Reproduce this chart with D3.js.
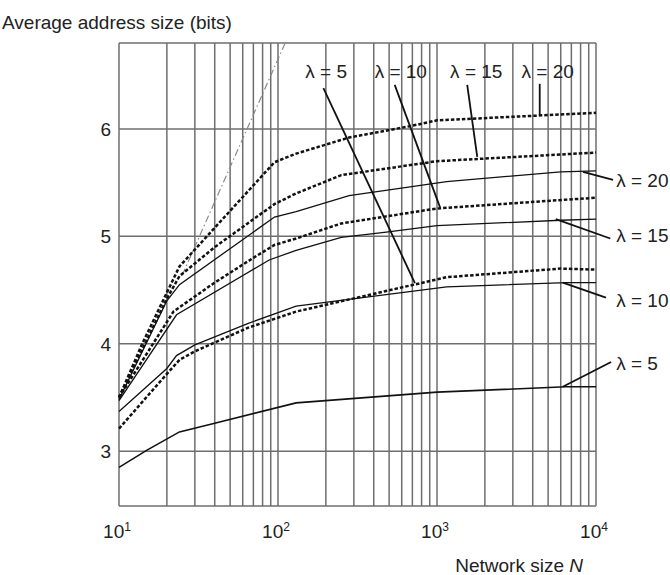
<!DOCTYPE html>
<html><head><meta charset="utf-8">
<script src="https://cdn.jsdelivr.net/npm/d3@7"></script>
<style>
html,body{margin:0;padding:0;background:#fff;}
svg{display:block;font-family:"Liberation Sans",Arial,Helvetica,sans-serif;}
</style></head>
<body><svg id="c" width="670" height="575"></svg>
<script>
// ---- data ----
const xTickExponents = [1, 2, 3, 4];
const yTicks = [3, 4, 5, 6];

// solid curves (one method), N / value pairs
const solid5N  = [10, 15, 24, 40, 130, 1000, 6500, 10000];
const solid5V  = [2.85, 3.01, 3.18, 3.26, 3.45, 3.55, 3.60, 3.60];
const solid10N = [10, 20, 23, 30, 65, 130, 1150, 6500, 10000];
const solid10V = [3.37, 3.77, 3.89, 3.99, 4.19, 4.35, 4.53, 4.57, 4.57];
const solid15N = [10, 23, 88, 130, 250, 480, 1000, 6000, 10000];
const solid15V = [3.47, 4.27, 4.78, 4.87, 4.99, 5.04, 5.10, 5.15, 5.16];
const solid20N = [10, 20, 24, 95, 130, 280, 1150, 6000, 10000];
const solid20V = [3.48, 4.40, 4.55, 5.18, 5.23, 5.38, 5.51, 5.60, 5.61];

// dotted curves (other method)
const dotted5N  = [10, 20, 24, 30, 65, 130, 1150, 6000, 10000];
const dotted5V  = [3.21, 3.72, 3.85, 3.93, 4.15, 4.30, 4.62, 4.70, 4.69];
const dotted10N = [10, 22, 40, 70, 95, 130, 250, 1000, 10000];
const dotted10V = [3.50, 4.30, 4.57, 4.80, 4.92, 4.98, 5.12, 5.26, 5.36];
const dotted15N = [10, 20, 24, 40, 95, 130, 250, 1000, 10000];
const dotted15V = [3.50, 4.42, 4.63, 4.90, 5.30, 5.40, 5.57, 5.70, 5.78];
const dotted20N = [10, 14, 24, 95, 130, 280, 700, 1000, 10000];
const dotted20V = [3.50, 4.00, 4.72, 5.69, 5.77, 5.92, 6.03, 6.08, 6.15];

// grey dash-dot reference line
const refN = [25, 111];
const refV = [4.64, 6.80];

// annotation labels
const topLabels  = ["λ = 5", "λ = 10", "λ = 15", "λ = 20"];
const topLabelN  = [201, 592, 1766, 4966];
const topLabelV  = [6.47, 6.47, 6.47, 6.47];
const topLeadN1  = [193, 542, 1549, 4426];
const topLeadV1  = [6.38, 6.41, 6.41, 6.42];
const topLeadN2  = [726, 1045, 1791, 4426];
const topLeadV2  = [4.565, 5.27, 5.74, 6.13];

const rightLabels = ["λ = 20", "λ = 15", "λ = 10", "λ = 5"];
const rightLabelN = [13400, 13400, 13400, 13400];
const rightLabelV = [5.525, 5.01, 4.41, 3.82];
const rightLeadN1 = [8282, 5585, 6180, 6180];
const rightLeadV1 = [5.60, 5.16, 4.57, 3.60];
const rightLeadN2 = [12800, 12300, 11550, 12450];
const rightLeadV2 = [5.525, 4.98, 4.43, 3.83];

// ---- drawing ----
const svg = d3.select("#c");
const x = d3.scaleLog().domain([10, 10000]).range([119, 596]);
const y = d3.scaleLinear().domain([2.49, 6.8]).range([506, 43]);
const gridColor = "#6e6e6e";

// grid
const g = svg.append("g");
g.selectAll("line.v").data(x.ticks()).join("line")
  .attr("x1", d => x(d)).attr("x2", d => x(d))
  .attr("y1", y(2.49)).attr("y2", y(6.8))
  .attr("stroke", gridColor).attr("stroke-width", 1.5);
g.selectAll("line.h").data(yTicks.concat([2.49, 6.8])).join("line")
  .attr("x1", x(10)).attr("x2", x(10000))
  .attr("y1", d => y(d)).attr("y2", d => y(d))
  .attr("stroke", gridColor).attr("stroke-width", 1.5);

// y tick labels
svg.selectAll("text.yt").data(yTicks).join("text")
  .attr("x", 111).attr("y", d => y(d)).attr("dy", "0.36em")
  .attr("text-anchor", "end").attr("font-size", 19).attr("fill", "#222")
  .text(d => d);

// x tick labels (10^k)
const xl = svg.selectAll("text.xt").data(xTickExponents).join("text")
  .attr("x", d => x(Math.pow(10, d)) - 2).attr("y", 538)
  .attr("text-anchor", "middle").attr("font-size", 19).attr("fill", "#222");
xl.append("tspan").text("10");
xl.append("tspan").attr("dy", -7).attr("font-size", 12).text(d => d);

// axis titles
svg.append("text").attr("x", 2).attr("y", 29).attr("font-size", 19)
  .attr("fill", "#222")
  .text("Average address size (bits)");
const xt = svg.append("text").attr("x", 583).attr("y", 572).attr("text-anchor", "end")
  .attr("font-size", 19).attr("fill", "#222");
xt.append("tspan").text("Network size ");
xt.append("tspan").attr("font-style", "italic").text("N");

const line = d3.line().x(d => x(d[0])).y(d => y(d[1]));
const zipS = (n, v) => n.map((d, i) => [d, v[i]]);

// reference dash-dot line
svg.append("path").datum(zipS(refN, refV)).attr("d", line)
  .attr("fill", "none").attr("stroke", "#8a8a8a").attr("stroke-width", 1.2)
  .attr("stroke-dasharray", "7,3,1.5,3");

const solids = [[solid5N, solid5V, 1.6], [solid10N, solid10V, 1.3], [solid15N, solid15V, 1.3], [solid20N, solid20V, 1.3]];
solids.forEach(s => {
  svg.append("path").datum(zipS(s[0], s[1])).attr("d", line)
    .attr("fill", "none").attr("stroke", "#111").attr("stroke-width", s[2]);
});
const dotted = [[dotted5N, dotted5V], [dotted10N, dotted10V], [dotted15N, dotted15V], [dotted20N, dotted20V]];
dotted.forEach(s => {
  svg.append("path").datum(zipS(s[0], s[1])).attr("d", line)
    .attr("fill", "none").attr("stroke", "#111").attr("stroke-width", 2.5)
    .attr("stroke-dasharray", "3.5,2");
});

// leaders
topLabels.forEach((t, i) => {
  svg.append("line")
    .attr("x1", x(topLeadN1[i])).attr("y1", y(topLeadV1[i]))
    .attr("x2", x(topLeadN2[i])).attr("y2", y(topLeadV2[i]))
    .attr("stroke", "#111").attr("stroke-width", 1.8);
  svg.append("text").attr("x", x(topLabelN[i])).attr("y", y(topLabelV[i]))
    .attr("text-anchor", "middle").attr("font-size", 19).attr("fill", "#222").text(t);
});
rightLabels.forEach((t, i) => {
  svg.append("line")
    .attr("x1", x(rightLeadN1[i])).attr("y1", y(rightLeadV1[i]))
    .attr("x2", x(rightLeadN2[i])).attr("y2", y(rightLeadV2[i]))
    .attr("stroke", "#111").attr("stroke-width", 1.8);
  svg.append("text").attr("x", x(rightLabelN[i])).attr("y", y(rightLabelV[i]))
    .attr("dy", "0.36em").attr("font-size", 19).attr("fill", "#222").text(t);
});
</script></body></html>
